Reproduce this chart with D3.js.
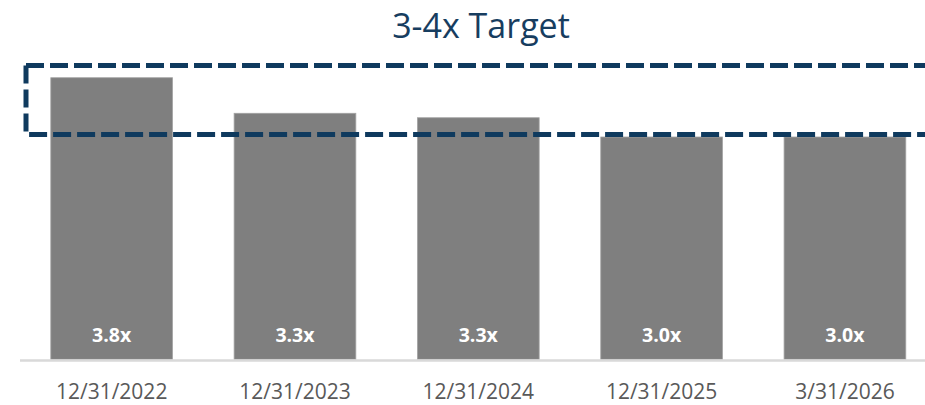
<!DOCTYPE html>
<html>
<head>
<meta charset="utf-8">
<script src="https://cdn.jsdelivr.net/npm/d3@7"></script>
<style>
  body { margin: 0; background: #fff; }
  svg { display: block; }
</style>
</head>
<body>
<svg id="chart" width="925" height="405"></svg>
<script>
// datos
var categorias = ['12/31/2022', '12/31/2023', '12/31/2024', '12/31/2025', '3/31/2026'];
var valores = [3.80, 3.32, 3.26, 3.00, 3.00];
var etiquetas = ['3.8x', '3.3x', '3.3x', '3.0x', '3.0x'];
var objetivo = [3, 4];
var titulo = '3-4x Target';

var svg = d3.select('#chart'),
    font = '"Open Sans", "DejaVu Sans", sans-serif';

var x = d3.scaleBand()
    .domain(categorias)
    .range([20, 936.6])
    .paddingInner(0.336)
    .paddingOuter(0.168);

var y = d3.scaleLinear()
    .domain([0, 4])
    .range([359.3, 62.9]);

// titulo
svg.append('text')
    .attr('x', 481)
    .attr('y', 38)
    .attr('text-anchor', 'middle')
    .attr('font-family', font)
    .attr('font-size', 34)
    .attr('fill', '#173d5f')
    .text(titulo);

// barras
svg.selectAll('.bar')
  .data(valores)
  .enter().append('rect')
    .attr('class', 'bar')
    .attr('x', function(d, i) { return x(categorias[i]); })
    .attr('y', function(d) { return y(d); })
    .attr('width', x.bandwidth())
    .attr('height', function(d) { return y(0) - y(d); })
    .attr('fill', '#7f7f7f')
    .attr('stroke', '#a3a3a3')
    .attr('stroke-width', 0.8);

// etiquetas dentro de las barras
svg.selectAll('.lbl')
  .data(etiquetas)
  .enter().append('text')
    .attr('class', 'lbl')
    .attr('x', function(d, i) { return x(categorias[i]) + x.bandwidth() / 2; })
    .attr('y', 342.3)
    .attr('text-anchor', 'middle')
    .attr('font-family', font)
    .attr('font-weight', 'bold')
    .attr('font-size', 19.5)
    .attr('fill', '#ffffff')
    .text(function(d) { return d; });

// eje x
var gx = svg.append('g')
    .attr('transform', 'translate(0,360.5)')
    .call(d3.axisBottom(x).tickSize(0).tickPadding(0));

gx.select('.domain').remove();
gx.append('line')
    .attr('x1', 20).attr('x2', 925)
    .attr('stroke', '#d9d9d9')
    .attr('stroke-width', 2.4);

gx.selectAll('.tick text')
    .attr('y', 38)
    .attr('dy', null)
    .attr('font-family', font)
    .attr('font-size', 21)
    .attr('fill', '#595959');

// caja del objetivo 3-4x
var sw = 5;
svg.append('rect')
    .attr('x', 26)
    .attr('y', y(objetivo[1]) + sw / 2)
    .attr('width', 960)
    .attr('height', (y(objetivo[0]) - sw / 2) - (y(objetivo[1]) + sw / 2))
    .attr('fill', 'none')
    .attr('stroke', '#0f3a5e')
    .attr('stroke-width', sw)
    .attr('stroke-dasharray', '18,6');
</script>
</body>
</html>
